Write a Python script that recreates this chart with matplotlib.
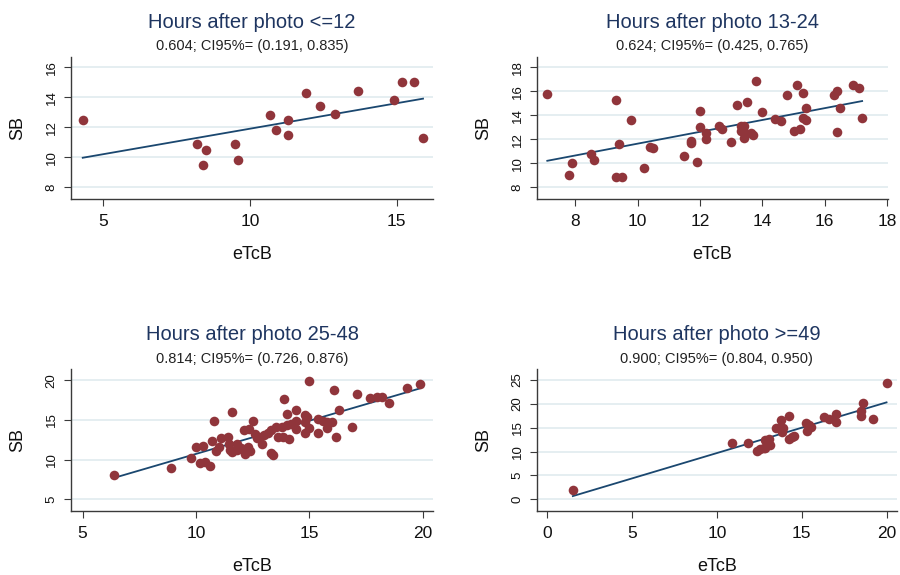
import numpy as np
import matplotlib
matplotlib.use("Agg")
import matplotlib.pyplot as plt

plt.rcParams["font.family"] = ["Liberation Sans", "DejaVu Sans"]
plt.rcParams["xtick.major.size"] = 5
plt.rcParams["ytick.major.size"] = 5
plt.rcParams["xtick.major.width"] = 0.8
plt.rcParams["ytick.major.width"] = 0.8

marker_color = '#90353b'
line_color = '#1a476f'
title_color = '#1e3560'
grid_color = '#e3edf0'
axis_color = '#3a3a3a'

# eTcB (x) vs SB (y), one group per time window after phototherapy
x_le12 = [4.3, 8.2, 8.5, 8.4, 9.5, 9.6, 10.7, 10.9, 11.3, 11.3, 11.9, 12.4,
          12.9, 13.7, 14.9, 15.2, 15.6, 15.9]
y_le12 = [12.5, 10.9, 10.5, 9.5, 10.9, 9.8, 12.8, 11.8, 12.5, 11.5, 14.3, 13.4,
          12.9, 14.4, 13.8, 15.0, 15.0, 11.3]

x_13_24 = [7.1, 7.8, 7.9, 8.5, 8.6, 9.3, 9.3, 9.5, 9.4, 9.8, 10.2, 10.4, 10.5,
           11.5, 11.7, 11.7, 11.9, 12.0, 12.0, 12.2, 12.2, 12.6, 12.7, 13.0,
           13.2, 13.5, 13.8, 13.3, 13.4, 13.3, 13.4, 13.4, 13.65, 13.7, 14.0,
           14.4, 14.6, 14.8, 15.0, 15.1, 15.2, 15.3, 15.4, 15.3, 15.4, 16.3,
           16.4, 16.4, 16.5, 16.9, 17.1, 17.2]
y_13_24 = [15.8, 9.0, 10.0, 10.8, 10.3, 15.3, 8.9, 8.9, 11.6, 13.6, 9.6, 11.4, 11.3,
           10.6, 11.9, 11.7, 10.1, 14.4, 13.0, 12.5, 12.0, 13.1, 12.9, 11.8,
           14.9, 15.1, 16.9, 13.1, 13.1, 12.7, 12.6, 12.1, 12.5, 12.4, 14.3,
           13.7, 13.5, 15.7, 12.7, 16.5, 12.9, 15.9, 14.6, 13.8, 13.6, 15.7,
           16.0, 12.6, 14.6, 16.5, 16.3, 13.8]

x_25_48 = [6.4, 8.9, 9.8, 10.0, 10.3, 10.2, 10.4, 10.6, 10.7, 10.8, 10.9, 11.0,
           11.1, 11.4, 11.45, 11.5, 11.6, 11.6, 11.8, 11.8, 12.0, 12.1, 12.15,
           12.3, 12.35, 12.5, 12.4, 12.6, 12.7, 12.8, 12.9, 13.0, 13.2, 13.3,
           13.3, 13.4, 13.55, 13.6, 13.8, 13.85, 13.9, 14.0, 14.0, 14.1, 14.2,
           14.3, 14.4, 14.4, 14.4, 14.8, 14.9, 14.8, 14.8, 15.0, 15.0, 15.4,
           15.4, 15.6, 15.8, 15.8, 16.0, 16.1, 16.2, 16.3, 16.9, 17.1, 17.7,
           18.0, 18.2, 18.5, 19.3, 19.9]
y_25_48 = [8.0, 9.0, 10.2, 11.6, 11.7, 9.6, 9.7, 9.2, 12.4, 14.9, 11.1, 11.6,
           12.7, 12.8, 12.0, 11.2, 16.0, 10.9, 12.0, 11.2, 11.5, 13.7, 10.7,
           11.6, 13.9, 14.8, 11.1, 13.2, 12.7, 12.8, 12.0, 13.1, 13.4, 13.7,
           10.8, 10.6, 14.1, 12.8, 14.1, 12.8, 17.6, 15.8, 14.3, 12.6, 14.5,
           14.5, 16.3, 14.9, 13.8, 15.6, 15.4, 14.7, 13.4, 14.0, 19.9, 15.1,
           13.4, 14.8, 14.7, 14.0, 14.7, 18.7, 12.8, 16.2, 14.1, 18.2, 17.7,
           17.9, 17.9, 17.1, 19.0, 19.5]

x_ge49 = [1.5, 10.9, 11.85, 12.35, 12.55, 12.75, 12.85, 12.85, 13.05, 13.15,
          13.5, 13.7, 13.8, 13.85, 13.9, 14.22, 14.24, 14.4, 14.54, 15.24,
          15.32, 15.45, 15.52, 16.3, 16.6, 17.0, 17.0, 18.5, 18.5, 18.6,
          19.2, 20.0]
y_ge49 = [2.0, 11.7, 11.7, 10.1, 10.5, 10.8, 12.4, 10.8, 12.6, 11.3,
          15.0, 15.0, 16.6, 14.0, 15.0, 17.4, 12.6, 13.0, 13.3, 16.0,
          14.4, 15.5, 15.1, 17.2, 16.8, 17.9, 16.2, 18.4, 17.4, 20.1,
          16.8, 24.4]

titles = ['Hours after photo <=12', 'Hours after photo 13-24',
          'Hours after photo 25-48', 'Hours after photo >=49']
subtitles = ['0.604; CI95%= (0.191, 0.835)', '0.624; CI95%= (0.425, 0.765)',
             '0.814; CI95%= (0.726, 0.876)', '0.900; CI95%= (0.804, 0.950)']

xs = [x_le12, x_13_24, x_25_48, x_ge49]
ys = [y_le12, y_13_24, y_25_48, y_ge49]
xticks = [[5, 10, 15], [8, 10, 12, 14, 16, 18], [5, 10, 15, 20], [0, 5, 10, 15, 20]]
yticks = [[8, 10, 12, 14, 16], [8, 10, 12, 14, 16, 18], [5, 10, 15, 20], [0, 5, 10, 15, 20, 25]]
xlims = [(3.9, 16.24), (6.76, 18.03), (4.49, 20.47), (-0.63, 20.6)]
ylims = [(7.22, 16.7), (7.03, 18.9), (3.57, 21.4), (-2.4, 27.3)]

# panel boxes in pixels: left, top, right, bottom
W, H = 900, 575
boxes = [(71, 56.7, 433, 199), (536.7, 56.7, 888, 199),
         (71, 369, 433.3, 510.7), (536.7, 369, 896.7, 510.7)]

fig = plt.figure(figsize=(9, 5.75), dpi=100)

for i in range(4):
    l, t, r, b = boxes[i]
    ax = fig.add_axes([l / W, 1 - b / H, (r - l) / W, (b - t) / H])
    x = np.array(xs[i])
    y = np.array(ys[i])

    ax.scatter(x, y, s=48, color=marker_color, linewidths=0, zorder=3)
    slope, intercept = np.polyfit(x, y, 1)
    xf = np.array([x.min(), x.max()])
    ax.plot(xf, intercept + slope * xf, color=line_color, lw=1.3, zorder=2)

    ax.set_xlim(xlims[i])
    ax.set_ylim(ylims[i])
    ax.set_xticks(xticks[i])
    ax.set_yticks(yticks[i])
    ax.yaxis.grid(True, color=grid_color, lw=1.3)
    ax.set_axisbelow(True)
    for s in ['top', 'right']:
        ax.spines[s].set_visible(False)
    for s in ['left', 'bottom']:
        ax.spines[s].set_color(axis_color)
        ax.spines[s].set_linewidth(1.0)
    ax.tick_params(colors=axis_color, labelcolor='#111111')
    ax.tick_params(axis='x', pad=6, labelsize=12.5)
    ax.tick_params(axis='y', labelrotation=90, pad=4.5, labelsize=9.5)
    plt.setp(ax.get_yticklabels(), va='center')

    cx = (l + r) / 2 / W
    fig.text(cx, 1 - (t - 34.5) / H, titles[i], ha='center', va='center',
             fontsize=14.5, color=title_color)
    fig.text(cx, 1 - (t - 10.5) / H, subtitles[i], ha='center', va='center',
             fontsize=10.5, color='#222222')
    fig.text(cx, 1 - (b + 55.5) / H, 'eTcB', ha='center', va='center',
             fontsize=13, color='#111111')
    fig.text((l - 53) / W, 1 - (t + b) / 2 / H, 'SB', ha='center', va='center',
             rotation=90, fontsize=13, color='#111111')

plt.savefig('out.png', dpi=100)
